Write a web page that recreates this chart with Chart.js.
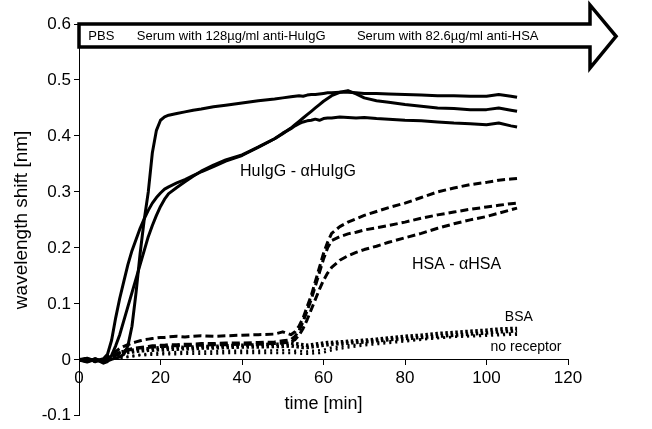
<!DOCTYPE html>
<html>
<head>
<meta charset="utf-8">
<script src="https://cdn.jsdelivr.net/npm/chart.js@4"></script>
<style>
html,body{margin:0;padding:0;background:#fff;}
#wrap{width:652px;height:429px;position:relative;}
</style>
</head>
<body>
<div id="wrap"><canvas id="c" width="652" height="429"></canvas></div>
<script>
// time axis (minutes)
const timeMin = [0,2,4,6, 7,8,9,10,11,12,13,14,15,16,17,18,19,20,21,22, 24,26,28,30,33,36,40,44,48,50, 52,53,54,55,56,57,58,59,60,61,62, 64,66,68,70,73,76,80,84,88,92,96,100,103,106,107.5];

// HuIgG - αHuIgG (solid)
const hulgg1 = [0,-0.003,0.002,-0.004, -0.002,0.001,0.003,0.005,0.01,0.025,0.06,0.12,0.19,0.25,0.3,0.37,0.41,0.428,0.434,0.437, 0.44,0.443,0.446,0.448,0.452,0.455,0.459,0.463,0.466,0.468, 0.47,0.471,0.472,0.471,0.473,0.474,0.474,0.475,0.476,0.477,0.477, 0.478,0.478,0.477,0.476,0.476,0.475,0.474,0.473,0.472,0.472,0.471,0.471,0.474,0.471,0.469];
const hulgg2 = [0,0.003,-0.002,0.002, 0.01,0.035,0.075,0.11,0.14,0.17,0.195,0.215,0.235,0.252,0.267,0.28,0.29,0.298,0.305,0.309, 0.316,0.322,0.329,0.336,0.345,0.355,0.365,0.38,0.395,0.405, 0.413,0.418,0.422,0.425,0.427,0.428,0.43,0.428,0.431,0.432,0.432, 0.434,0.433,0.432,0.433,0.431,0.43,0.428,0.427,0.425,0.423,0.422,0.42,0.423,0.418,0.416];
const hulgg3 = [0,-0.004,0.001,-0.006, -0.003,0.008,0.025,0.045,0.07,0.095,0.12,0.145,0.17,0.195,0.22,0.24,0.258,0.274,0.287,0.297, 0.308,0.318,0.328,0.337,0.348,0.357,0.366,0.38,0.395,0.404, 0.414,0.42,0.426,0.432,0.438,0.444,0.45,0.456,0.462,0.467,0.472, 0.478,0.481,0.475,0.468,0.463,0.46,0.456,0.453,0.45,0.449,0.447,0.447,0.45,0.446,0.444];

// HSA - αHSA (dashed)
const hsa1 = [0,0,-0.002,0, 0.005,0.01,0.015,0.02,0.024,0.027,0.03,0.032,0.034,0.036,0.037,0.038,0.039,0.04,0.04,0.041, 0.042,0.041,0.042,0.043,0.042,0.043,0.044,0.045,0.046,0.05, 0.045,0.05,0.06,0.075,0.095,0.115,0.14,0.165,0.19,0.21,0.226, 0.238,0.246,0.252,0.258,0.265,0.272,0.28,0.29,0.3,0.307,0.313,0.317,0.321,0.323,0.324];
const hsa2 = [0,0.002,-0.003,0, 0.003,0.006,0.01,0.013,0.016,0.018,0.02,0.021,0.022,0.023,0.024,0.025,0.025,0.026,0.026,0.027, 0.027,0.028,0.028,0.029,0.029,0.03,0.03,0.031,0.032,0.034, 0.036,0.042,0.052,0.068,0.088,0.108,0.132,0.156,0.18,0.2,0.213, 0.22,0.225,0.228,0.232,0.236,0.24,0.246,0.253,0.259,0.264,0.269,0.273,0.276,0.279,0.28];
const hsa3 = [0,-0.002,0.001,-0.002, 0,0.004,0.008,0.012,0.015,0.017,0.019,0.02,0.021,0.022,0.022,0.023,0.023,0.024,0.024,0.025, 0.025,0.025,0.026,0.026,0.027,0.027,0.028,0.028,0.029,0.03, 0.032,0.036,0.044,0.056,0.072,0.09,0.108,0.126,0.142,0.155,0.165, 0.178,0.186,0.192,0.197,0.203,0.21,0.218,0.226,0.235,0.243,0.25,0.256,0.262,0.268,0.271];

// BSA (heavy dotted)
const bsa1 = [0,0.002,-0.003,0, 0.003,0.006,0.01,0.013,0.015,0.016,0.017,0.018,0.019,0.02,0.02,0.021,0.021,0.022,0.022,0.022, 0.023,0.022,0.023,0.024,0.024,0.025,0.026,0.027,0.028,0.028, 0.03,0.029,0.028,0.027,0.026,0.027,0.028,0.029,0.03,0.031,0.031, 0.032,0.033,0.034,0.035,0.037,0.039,0.042,0.044,0.047,0.049,0.051,0.053,0.055,0.056,0.056];
const bsa2 = [0,-0.002,0.001,-0.003, 0,0.003,0.006,0.009,0.011,0.013,0.014,0.015,0.016,0.016,0.017,0.017,0.018,0.018,0.018,0.019, 0.019,0.02,0.02,0.021,0.021,0.022,0.023,0.023,0.024,0.024, 0.025,0.024,0.023,0.022,0.022,0.023,0.024,0.025,0.026,0.027,0.028, 0.029,0.03,0.031,0.032,0.034,0.036,0.038,0.04,0.042,0.044,0.046,0.048,0.05,0.051,0.052];

// no receptor (light dotted)
const noRec1 = [0,-0.002,0,-0.002, 0,0.001,0.002,0.003,0.004,0.005,0.006,0.007,0.008,0.008,0.009,0.009,0.009,0.01,0.01,0.01, 0.01,0.011,0.011,0.011,0.011,0.012,0.012,0.012,0.012,0.012, 0.012,0.012,0.011,0.011,0.011,0.011,0.012,0.012,0.013,0.015,0.017, 0.02,0.022,0.024,0.026,0.028,0.03,0.033,0.036,0.039,0.041,0.043,0.045,0.046,0.047,0.047];
const noRec2 = [0,0.001,-0.002,0, 0.001,0.002,0.003,0.004,0.005,0.006,0.007,0.008,0.009,0.01,0.011,0.012,0.012,0.013,0.013,0.013, 0.014,0.014,0.015,0.015,0.015,0.016,0.016,0.016,0.017,0.017, 0.017,0.016,0.016,0.015,0.015,0.016,0.016,0.017,0.018,0.02,0.022, 0.024,0.026,0.027,0.029,0.031,0.033,0.035,0.037,0.039,0.041,0.042,0.043,0.044,0.045,0.045];

// texts
const arrowTexts = ['PBS', 'Serum with 128\u00b5g/ml anti-HuIgG', 'Serum with 82.6\u00b5g/ml anti-HSA'];
const curveLabels = ['HuIgG - \u03b1HuIgG', 'HSA - \u03b1HSA', 'BSA', 'no receptor'];
const xTitle = 'time [min]';
const yTitle = 'wavelength shift [nm]';

const FONT = "'Liberation Sans', Arial, Helvetica, sans-serif";

function pts(vals){ return timeMin.map((t,i)=>({x:t,y:vals[i]})); }
function ds(vals, style){
  return Object.assign({data:pts(vals), borderColor:'#000', backgroundColor:'#000', pointRadius:0,
    fill:false, tension:0, borderJoinStyle:'round'}, style);
}
const solid = {borderWidth:3};
const dashed = {borderWidth:3, borderDash:[8,4]};
const dotBig = {borderWidth:3.5, borderDash:[2.5,2.5]};
const dotSmall = {borderWidth:2.5, borderDash:[2,4]};

const overlay = {
  id:'overlay',
  afterDraw(chart){
    const ctx = chart.ctx, xs = chart.scales.x, ys = chart.scales.y;
    const X = v=>xs.getPixelForValue(v), Y = v=>ys.getPixelForValue(v);
    // arrow
    ctx.save();
    ctx.beginPath();
    ctx.moveTo(X(0), Y(0.6));
    ctx.lineTo(X(125.4), Y(0.6));
    ctx.lineTo(X(125.4), Y(0.634));
    ctx.lineTo(X(131.8), Y(0.578));
    ctx.lineTo(X(125.4), Y(0.521));
    ctx.lineTo(X(125.4), Y(0.559));
    ctx.lineTo(X(0), Y(0.559));
    ctx.closePath();
    ctx.fillStyle = '#fff';
    ctx.fill();
    ctx.lineWidth = 3.5;
    ctx.lineJoin = 'miter';
    ctx.strokeStyle = '#000';
    ctx.stroke();
    ctx.fillStyle = '#000';
    ctx.font = '13px ' + FONT;
    ctx.textBaseline = 'middle';
    ctx.textAlign = 'left';
    ctx.fillText(arrowTexts[0], X(2.3), Y(0.578));
    ctx.fillText(arrowTexts[1], X(14.2), Y(0.578));
    ctx.fillText(arrowTexts[2], X(68.2), Y(0.578));
    // curve labels
    ctx.font = '16px ' + FONT;
    ctx.fillText(curveLabels[0], X(39.5), Y(0.336));
    ctx.fillText(curveLabels[1], X(81.7), Y(0.171));
    ctx.font = '14px ' + FONT;
    ctx.fillText(curveLabels[2], X(104.5), Y(0.077));
    ctx.fillText(curveLabels[3], X(101), Y(0.023));
    ctx.restore();
  }
};

new Chart(document.getElementById('c'), {
  type:'line',
  data:{datasets:[
    ds(hulgg1, solid), ds(hulgg2, solid), ds(hulgg3, solid),
    ds(hsa1, dashed), ds(hsa2, dashed), ds(hsa3, dashed),
    ds(bsa1, dotBig), ds(bsa2, dotBig),
    ds(noRec1, dotSmall), ds(noRec2, dotSmall)
  ]},
  options:{
    responsive:false, animation:false, devicePixelRatio:1,
    layout:{padding:{top:24, right:84, bottom:12, left:0}},
    plugins:{legend:{display:false}, tooltip:{enabled:false}},
    scales:{
      x:{type:'linear', position:{y:0}, min:0, max:120,
        ticks:{stepSize:20, color:'#000', font:{family:FONT, size:17}, padding:3, maxRotation:0},
        grid:{display:true, drawOnChartArea:false, drawTicks:true, tickLength:5, color:'#000'},
        border:{display:true, color:'#000', width:1},
        title:{display:true, text:xTitle, color:'#000', font:{family:FONT, size:18}, padding:{top:2,bottom:0}}
      },
      y:{type:'linear', position:'left', min:-0.1, max:0.6,
        ticks:{stepSize:0.1, color:'#000', font:{family:FONT, size:17}, padding:3,
          callback:v=>Math.abs(v)<1e-9?'0':(Math.round(v*10)/10).toFixed(1)},
        grid:{display:true, drawOnChartArea:false, drawTicks:true, tickLength:5, color:'#000'},
        border:{display:true, color:'#000', width:1},
        title:{display:true, text:yTitle, color:'#000', font:{family:FONT, size:19}, padding:{top:10,bottom:0}},
        afterFit:s=>{s.width=79;}
      }
    }
  },
  plugins:[overlay]
});
</script>
</body>
</html>
